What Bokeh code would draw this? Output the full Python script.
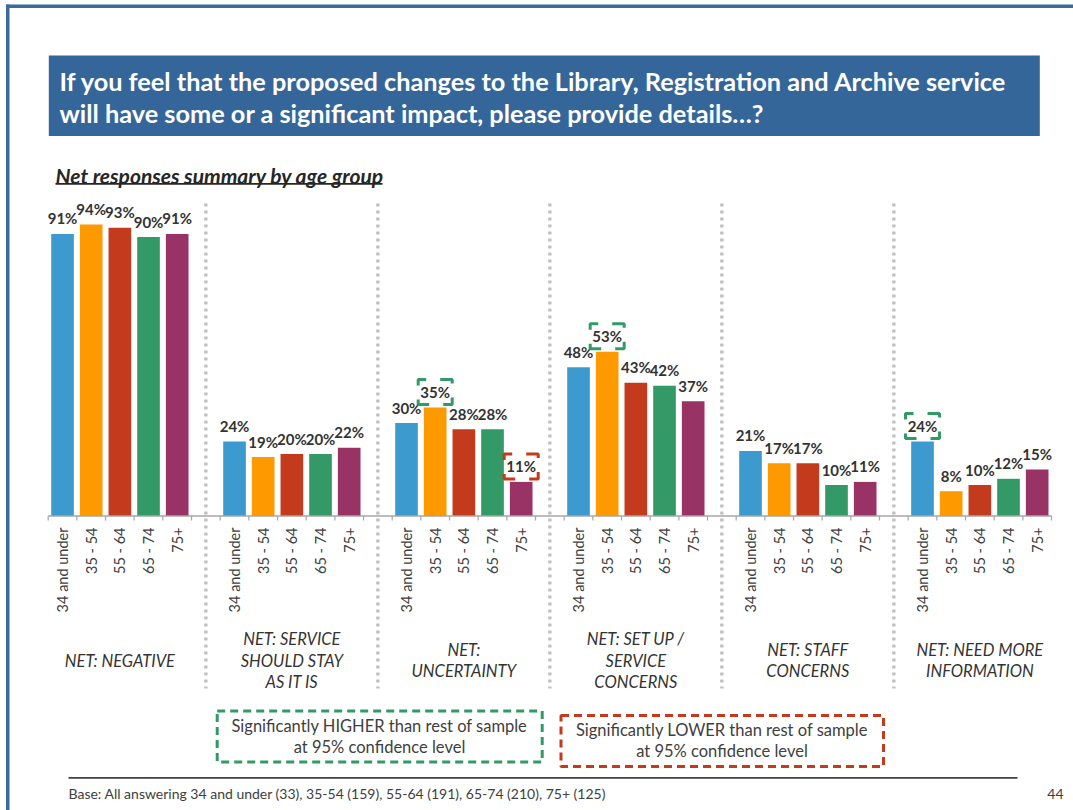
import numpy as np
from bokeh.plotting import figure
from bokeh.models import ColumnDataSource, Label, BoxAnnotation, Range1d
from bokeh.embed import file_html
from bokeh.resources import INLINE
from bokeh.core.properties import value

# ---------------- data ----------------
title_lines = ["If you feel that the proposed changes to the Library, Registration and Archive service",
               "will have some or a significant impact, please provide details\u2026?"]
subtitle = "Net responses summary by age group"
ages = ["34 and under", "35 - 54", "55 - 64", "65 - 74", "75+"]
group_lines = [["NET: NEGATIVE"],
               ["NET: SERVICE", "SHOULD STAY", "AS IT IS"],
               ["NET:", "UNCERTAINTY"],
               ["NET: SET UP /", "SERVICE", "CONCERNS"],
               ["NET: STAFF", "CONCERNS"],
               ["NET: NEED MORE", "INFORMATION"]]
net_negative = [91, 94, 93, 90, 91]
net_stay = [24, 19, 20, 20, 22]
net_uncertainty = [30, 35, 28, 28, 11]
net_setup = [48, 53, 43, 42, 37]
net_staff = [21, 17, 17, 10, 11]
net_need_info = [24, 8, 10, 12, 15]
series = [net_negative, net_stay, net_uncertainty, net_setup, net_staff, net_need_info]
# significance flags: (group index, age index)
sig_higher = [(2, 1), (3, 1), (5, 0)]
sig_lower = [(2, 4)]
legend_higher = ["Significantly HIGHER than rest of sample", "at 95% confidence level"]
legend_lower = ["Significantly LOWER than rest of sample", "at 95% confidence level"]
base_text = "Base: All answering 34 and under (33), 35-54 (159), 55-64 (191), 65-74 (210), 75+ (125)"
page_no = "44"

# ---------------- styles / layout ----------------
age_colors = ["#3D9ACE", "#FF9900", "#C43A1C", "#339966", "#993366"]
GREEN = "#339966"
RED = "#C43A1C"
FRAME_BLUE = "#3A6A9E"
TITLE_BLUE = "#356699"
TXT = "#333333"
FONT = "Lato"

W, H = 1073, 810
SLOT = 28.666          # px per category slot
X0 = 47.7              # px of first slot boundary
PPU = 3.1              # px per percent
BASE = 515.5           # px (from top) of baseline
LBL_OFF = -15.5        # label centre above bar top, px

n_age = len(ages)
n_grp = len(series)
per_grp = n_age + 1
n_slots = n_grp * per_grp - 1


def sx(rx):
    return rx


def sy(ry):
    return H - ry


def yd(ry):
    return (BASE - ry) / PPU


p = figure(width=W, height=H, title=None,
           x_range=Range1d(-X0 / SLOT, (W - X0) / SLOT),
           y_range=Range1d(-(H - BASE) / PPU, BASE / PPU),
           x_axis_location=None, y_axis_location=None,
           toolbar_location=None, output_backend="svg", min_border=0,
           outline_line_color=None, background_fill_color="white",
           border_fill_color="white")
p.grid.visible = False

# bars
xs, tops, cols, labs = [], [], [], []
for g, vals in enumerate(series):
    for k, v in enumerate(vals):
        xs.append(g * per_grp + k + 0.5)
        tops.append(v)
        cols.append(age_colors[k])
        labs.append(f"{v}%")
src = ColumnDataSource(dict(x=xs, top=tops, color=cols, label=labs))
p.vbar(x="x", top="top", bottom=0, width=0.79, fill_color="color", line_color=None, source=src)
p.text(x="x", y="top", text="label", source=src, text_align="center", text_baseline="middle",
       y_offset=LBL_OFF, text_font=value(FONT), text_font_style="bold", text_font_size="15px",
       text_color=TXT)

# significance boxes (bracket-like dashed frames)
for flags, col in ((sig_higher, GREEN), (sig_lower, RED)):
    bx = [g * per_grp + k + 0.5 for g, k in flags]
    by = [series[g][k] - LBL_OFF / PPU for g, k in flags]
    p.rect(x=bx, y=by, width=34, height=25, width_units="screen", height_units="screen",
           fill_color=None, line_color=col, line_width=3, line_dash="16 14",
           line_dash_offset=8)

# axis line and ticks
ticks = list(range(n_slots + 1))
p.segment(x0=[0], y0=[0], x1=[n_slots], y1=[0], line_color="#A6A6A6", line_width=1.5)
p.segment(x0=ticks, y0=[0] * len(ticks), x1=ticks, y1=[-4.5 / PPU] * len(ticks),
          line_color="#A6A6A6", line_width=1.2)

# dotted separators
sep_x = [g * per_grp + n_age + 0.5 for g in range(n_grp - 1)]
p.segment(x0=sep_x, y0=[yd(203)] * len(sep_x), x1=sep_x, y1=[yd(688)] * len(sep_x),
          line_color="#BFBFBF", line_width=3.3, line_dash="3 4")

# rotated age labels
ax_x, ax_t = [], []
for g in range(n_grp):
    for k, a in enumerate(ages):
        ax_x.append(g * per_grp + k + 0.5)
        ax_t.append(a)
p.text(x=ax_x, y=[yd(527)] * len(ax_x), text=ax_t, angle=np.pi / 2, text_align="right",
       text_baseline="middle", text_font=value(FONT), text_font_size="14.5px", text_color="#404040")

# group labels
gx, gy, gt, go = [], [], [], []
for g, lines in enumerate(group_lines):
    n = len(lines)
    for i, ln in enumerate(lines):
        gx.append(g * per_grp + (n_age - 1) / 2 + 0.5)
        gy.append(yd(660))
        gt.append(ln)
        go.append((i - (n - 1) / 2) * 21.7)
p.text(x=gx, y=gy, text=gt, y_offset=go, text_align="center", text_baseline="middle",
       text_font=value(FONT), text_font_style="italic", text_font_size="16.5px", text_color=TXT)

# ---------------- page decorations ----------------
def box(l, r, t, b, **kw):
    p.add_layout(BoxAnnotation(left=l, right=r, top=t, bottom=b, left_units="screen",
                               right_units="screen", top_units="screen", bottom_units="screen", **kw))


def label(x, y, text, **kw):
    kw.setdefault("text_baseline", "middle")
    p.add_layout(Label(x=x, y=y, x_units="screen", y_units="screen", text=text, **kw))


# outer frame lines
box(sx(5.5), sx(9), sy(4), 0, fill_color=FRAME_BLUE, fill_alpha=1, line_color=None)
box(sx(5.5), W, sy(4), sy(7.5), fill_color=FRAME_BLUE, fill_alpha=1, line_color=None)

# title box
box(sx(48.3), sx(1039.3), sy(55), sy(135.5), fill_color=TITLE_BLUE, fill_alpha=1, line_color=None)
for i, t in enumerate(title_lines):
    label(sx(59), sy(80 + i * 32.5), t, text_font=FONT, text_font_style="bold",
          text_font_size="25.3px", text_color="white")

# subtitle with underline
label(sx(55), sy(174.5), subtitle, text_font=FONT, text_font_style="bold italic",
      text_font_size="21px", text_color="#262626")
box(sx(55), sx(382), sy(182.6), sy(184.2), fill_color="#262626", fill_alpha=1, line_color=None)

# legend boxes
box(sx(216.7), sx(541.7), sy(710.5), sy(761.5), fill_color=None, fill_alpha=0,
    line_color=GREEN, line_alpha=1, line_width=3, line_dash="8 5")
box(sx(560.5), sx(883), sy(715), sy(766), fill_color=None, fill_alpha=0,
    line_color=RED, line_alpha=1, line_width=3, line_dash="8 5")
for i, t in enumerate(legend_higher):
    label(sx(379), sy(725 + i * 21.7), t, text_font=FONT, text_font_size="16.5px",
          text_color="#404040", text_align="center")
for i, t in enumerate(legend_lower):
    label(sx(721.5), sy(729 + i * 21.7), t, text_font=FONT, text_font_size="16.5px",
          text_color="#404040", text_align="center")

# footer
box(sx(68), sx(1017), sy(776.5), sy(778.3), fill_color="#404040", fill_alpha=1, line_color=None)
label(sx(68), sy(793), base_text, text_font=FONT, text_font_size="14px", text_color="#404040")
label(sx(1063), sy(793), page_no, text_font=FONT, text_font_size="14px",
      text_color="#404040", text_align="right")

open("out.html", "w").write(file_html(p, INLINE))
